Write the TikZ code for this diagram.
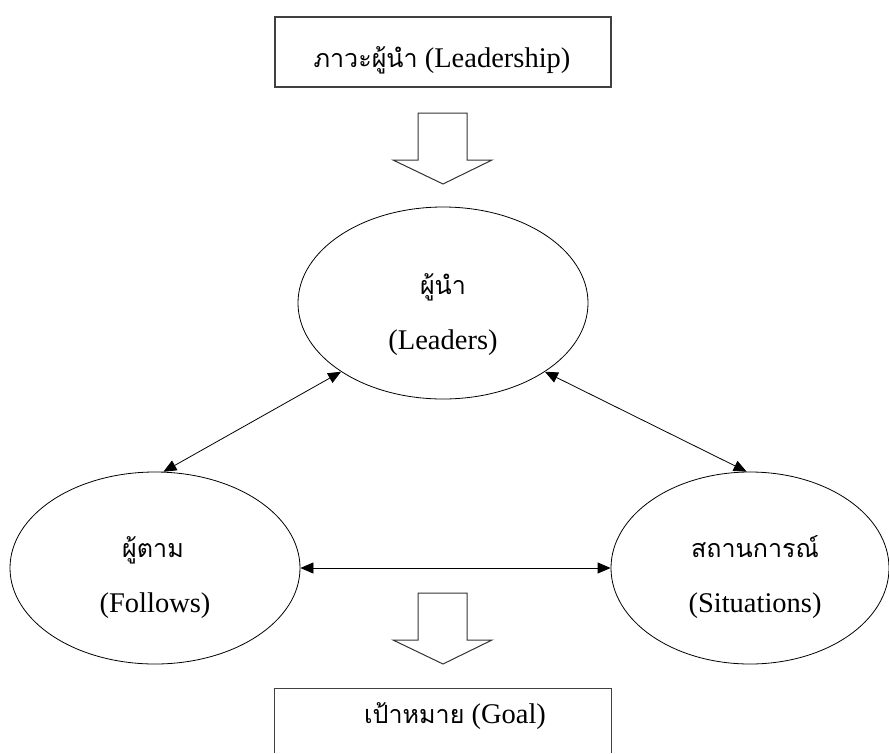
\documentclass[tikz,border=0pt]{standalone}
\usepackage{fontspec}
\setmainfont{Liberation Serif}
\newfontfamily\thaifont[Script=Thai,Scale=0.88]{Loma}
\usetikzlibrary{shapes.geometric,arrows.meta}
\begin{document}
\begin{tikzpicture}[x=1pt,y=-1pt,
  boxline/.style={draw=black!75,line width=1.2pt},
  oval/.style={ellipse,draw=black,line width=0.8pt,minimum width=290pt,minimum height=192pt,inner sep=0pt},
  txt/.style={anchor=base,inner sep=0pt,font=\fontsize{28.5}{34}\selectfont},
  link/.style={line width=0.8pt,{Triangle[length=13pt,width=11pt]}-{Triangle[length=13pt,width=11pt]}},
  blockarrow/.style={draw=black!80,line width=1pt}]
\useasboundingbox (0,0) rectangle (889,753);

% top box
\node[boxline,minimum width=336pt,minimum height=70pt,inner sep=0pt] (leadership) at (443,52) {};
\node[txt] (leadershiptext) at (442,67) {{\thaifont ภาวะผู้นำ} (Leadership)};

% block arrows
\draw[blockarrow] (418,113) -- (467,113) -- (467,160) -- (492,160) -- (443,184) -- (393,160) -- (418,160) -- cycle;
\draw[blockarrow] (418,593) -- (467,593) -- (467,640) -- (492,640) -- (443,664) -- (393,640) -- (418,640) -- cycle;

% ellipses
\node[oval] (leaders) at (443,303) {};
\node[oval] (follows) at (155,568) {};
\node[oval,minimum width=278pt] (situations) at (750,568) {};

\node[txt] (leadersth) at (443,294) {\thaifont ผู้นำ};
\node[txt] (leadersen) at (443,349) {(Leaders)};
\node[txt] (followsth) at (153,557) {\thaifont ผู้ตาม};
\node[txt] (followsen) at (155,612) {(Follows)};
\node[txt] (situationsth) at (755,557) {\thaifont สถานการณ์};
\node[txt] (situationsen) at (755,612) {(Situations)};

% connectors
\draw[link] (leaders.214) -- (follows.85);
\draw[link] (leaders.326) -- (situations.92);
\draw[link] (follows.east) -- (situations.west);

% goal box
\node[minimum width=336pt,minimum height=64pt,inner sep=0pt] (goal) at (443,721) {};
\draw[boxline] (goal.south west) -- (goal.north west) -- (goal.north east) -- (goal.south east);
\node[txt] (goaltext) at (455,723) {{\thaifont เป้าหมาย} (Goal)};
\end{tikzpicture}
\end{document}
